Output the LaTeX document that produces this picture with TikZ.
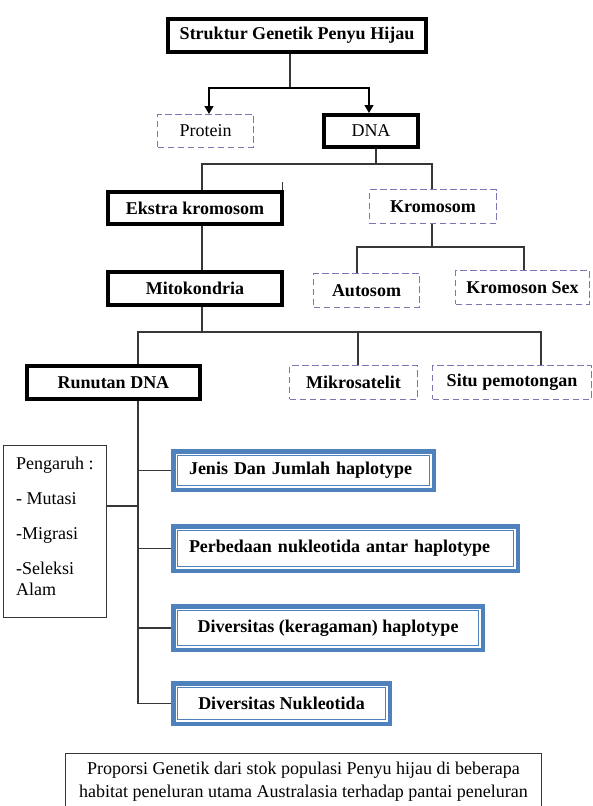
\documentclass[tikz,border=0pt]{standalone}
\usepackage{fontspec}
\setmainfont{Liberation Serif}
\usetikzlibrary{arrows.meta}
\definecolor{dashcol}{RGB}{130,115,178}
\definecolor{myblue}{RGB}{79,129,189}
\definecolor{conncol}{RGB}{55,55,55}
\begin{document}
\begin{tikzpicture}[x=1pt,y=-1pt,
  every node/.style={font=\fontsize{18}{21.6}\selectfont, inner sep=0pt},
  thickbox/.style={draw=black, line width=3.8pt, fill=white, font=\fontsize{18}{21.6}\selectfont\bfseries},
  dashbox/.style={draw=dashcol, line width=1.4pt, dash pattern=on 6.5pt off 3.5pt, fill=white},
  dashboldbox/.style={dashbox, font=\fontsize{18}{21.6}\selectfont\bfseries},
  thinbox/.style={draw=conncol, line width=1.3pt, fill=white},
  bluebox/.style={draw=myblue, line width=4.5pt, font=\fontsize{18}{21.6}\selectfont\bfseries,
    append after command={\pgfextra{\draw[draw=myblue, line width=1.1pt]
      ([shift={(6.5pt,-6.5pt)}]\tikzlastnode.north west) rectangle
      ([shift={(-6.5pt,6.5pt)}]\tikzlastnode.south east);}}},
  conn/.style={draw=conncol, line width=1.2pt},
  arr/.style={-{Triangle[length=8pt,width=9pt]}, draw=black}
]
\useasboundingbox (0,0) rectangle (593,806);
\fill[white] (0,0) rectangle (593,806);
\clip (0,0) rectangle (593,806);

% nodes
\node[thickbox, minimum width=258.2pt, minimum height=33.2pt] (title) at (297,35.5) {Struktur Genetik Penyu Hijau};
\node[dashbox, minimum width=95.6pt, minimum height=32.6pt] (protein) at (205.5,131) {Protein};
\node[thickbox, minimum width=94.2pt, minimum height=32.2pt, font=\fontsize{18}{21.6}\selectfont] (dna) at (371,131) {DNA};
\node[thickbox, minimum width=174.2pt, minimum height=32.2pt] (ekstra) at (195,208) {Ekstra kromosom};
\node[dashboldbox, minimum width=126.6pt, minimum height=33.6pt] (kromosom) at (433,206.5) {Kromosom};
\node[thickbox, minimum width=174.2pt, minimum height=33.2pt] (mito) at (195,288.5) {Mitokondria};
\node[dashboldbox, minimum width=105.6pt, minimum height=33.6pt] (autosom) at (366.5,290.5) {Autosom};
\node[dashboldbox, minimum width=133.6pt, minimum height=33.6pt] (kromsex) at (522.5,287.5) {Kromoson Sex};
\node[thickbox, minimum width=173.2pt, minimum height=33.2pt] (runutan) at (113.5,382.5) {Runutan DNA};
\node[dashboldbox, minimum width=127.6pt, minimum height=33.6pt] (mikro) at (353.5,382.5) {Mikrosatelit};
\node[dashboldbox, minimum width=158.6pt, minimum height=33.6pt] (situ) at (512,382.5) {Situ pemotongan};

\node[thinbox, minimum width=102.7pt, minimum height=171.7pt] (peng) at (55,531.5) {};
\node[anchor=north west, align=left, font=\fontsize{18}{21}\selectfont] (pengtext) at (16,456.5)
  {Pengaruh :\\[14pt]- Mutasi\\[14pt]-Migrasi\\[14pt]-Seleksi\\Alam};

\node[bluebox, minimum height=38.5pt, inner xsep=15.75pt, text width=229pt, align=left] (jenis) at (303.5,470.5) {Jenis Dan Jumlah haplotype};
\node[bluebox, minimum height=44.5pt, inner xsep=15.75pt, text width=313pt, align=left] (perbedaan) at (345.5,548.5) {Perbedaan nukleotida antar haplotype};
\node[bluebox, minimum width=309.5pt, minimum height=43.5pt] (keragaman) at (328,628) {Diversitas (keragaman) haplotype};
\node[bluebox, minimum width=216.5pt, minimum height=40.5pt] (nukleo) at (281.5,703.5) {Diversitas Nukleotida};

\node[thinbox, minimum width=475.5pt, minimum height=100pt, anchor=north] (bottombox) at (303.5,752.6) {};
\node[anchor=north, align=center, font=\fontsize{18}{23}\selectfont] (bottomtext) at (303.5,761.5)
  {Proporsi Genetik dari stok populasi Penyu hijau di beberapa\\habitat peneluran utama Australasia terhadap pantai peneluran};

% connectors
\coordinate (a1) at (290,88);
\draw[conn] (title.south -| a1) -- (a1);
\draw[conn, arr] (a1) -| ([xshift=3.5pt]protein.north);
\draw[conn, arr] (a1) -| ([xshift=-2pt]dna.north);

\coordinate (b1) at (376,164);
\draw[conn] ([xshift=5pt]dna.south) -- (b1);
\draw[conn] (b1) -| ([xshift=7pt]ekstra.north);
\draw[conn] (b1) -| ([xshift=-1pt]kromosom.north);
\draw[conn] ([xshift=-1.5pt]ekstra.north east) -- ++(0pt,8pt);

\draw[conn] ([xshift=7pt]ekstra.south) -- ([xshift=7pt]mito.north);

\coordinate (c1) at (432,247);
\draw[conn] ([xshift=-1pt]kromosom.south) -- (c1);
\draw[conn] (c1) -| ([xshift=-9.5pt]autosom.north);
\draw[conn] (c1) -| ([xshift=1.5pt]kromsex.north);

\coordinate (d1) at (202,332);
\draw[conn] ([xshift=7pt]mito.south) -- (d1);
\draw[conn] (d1) -| ([xshift=24.5pt]runutan.north);
\draw[conn] (d1) -| ([xshift=4.5pt]mikro.north);
\draw[conn] (d1) -| ([xshift=29pt]situ.north);

\coordinate (rs) at ([xshift=24.5pt]runutan.south);
\draw[conn] (rs) -- (nukleo.west -| rs) -- (nukleo.west);
\draw[conn] (jenis.west -| rs) -- (jenis.west);
\draw[conn] (perbedaan.west -| rs) -- (perbedaan.west);
\draw[conn] (keragaman.west -| rs) -- (keragaman.west);
\draw[conn] ([yshift=25.5pt]peng.east) -- ([yshift=25.5pt]peng.east -| rs);
\end{tikzpicture}
\end{document}
